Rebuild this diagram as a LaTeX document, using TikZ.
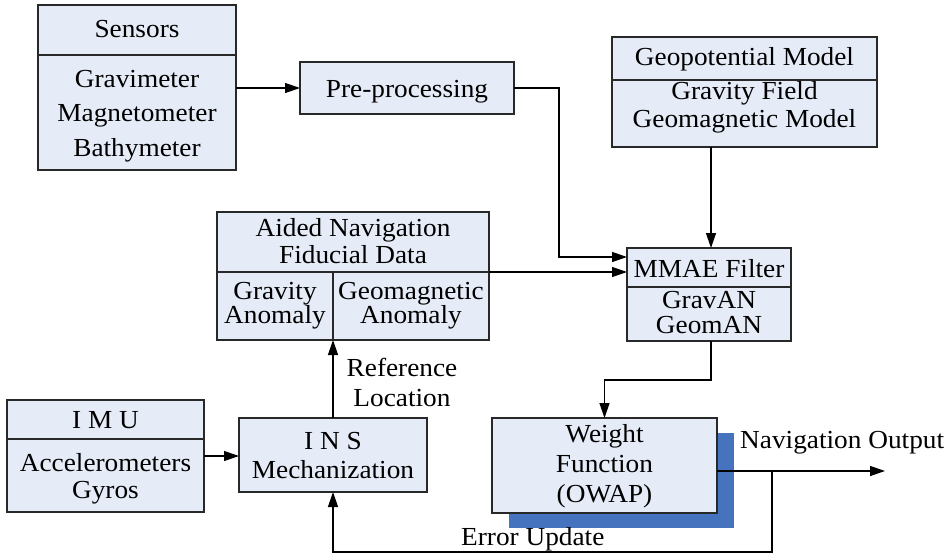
\documentclass[tikz,border=0pt]{standalone}
\usepackage{fontspec}
\setmainfont[FakeStretch=1.05]{Liberation Serif}
\usetikzlibrary{arrows.meta}
\definecolor{boxfill}{RGB}{230,236,247}
\definecolor{shadowblue}{RGB}{70,115,190}
\definecolor{edge}{RGB}{40,40,40}
\begin{document}
\begin{tikzpicture}[x=1pt,y=-1pt,
  box/.style={draw=edge, fill=boxfill, line width=1.3pt, inner sep=0pt, outer sep=0pt, anchor=north west},
  txt/.style={anchor=base, inner sep=0pt, text height=18pt, text depth=4pt, font=\fontsize{26}{30}\selectfont},
  lbl/.style={anchor=base west, inner sep=0pt, text height=18pt, text depth=4pt, font=\fontsize{26}{30}\selectfont},
  conn/.style={draw=black, line width=1.3pt, -{Triangle[length=15pt,width=10pt]}},
  divider/.style={draw=edge, line width=1.3pt}]
\useasboundingbox (0,0) rectangle (951,554);

% Sensors
\node[box, minimum width=198pt, minimum height=165pt] (sensors) at (38,5) {};
\draw[divider] (38,55) -- (236,55);
\node[txt] (tsens) at (137,37) {Sensors};
\node[txt] (tgrav) at (137,87) {Gravimeter};
\node[txt] (tmag) at (137,121) {Magnetometer};
\node[txt] (tbath) at (137,156) {Bathymeter};

% Pre-processing
\node[box, minimum width=214pt, minimum height=52pt] (pre) at (300,62) {};
\node[txt] (tpre) at (407,97) {Pre-processing};

% Geopotential Model
\node[box, minimum width=265pt, minimum height=110pt] (geo) at (612,37) {};
\draw[divider] (612,80) -- (877,80);
\node[txt] (tgeo) at (744.5,65) {Geopotential Model};
\node[txt] (tgf) at (744.5,99) {Gravity Field};
\node[txt] (tgm) at (744.5,127) {Geomagnetic Model};

% Aided Navigation
\node[box, minimum width=272pt, minimum height=128pt] (aided) at (217,212) {};
\draw[divider] (217,272) -- (489,272);
\draw[divider] (333,272) -- (333,340);
\node[txt] (tan1) at (353,236) {Aided Navigation};
\node[txt] (tan2) at (353,263) {Fiducial Data};
\node[txt] (tga1) at (275,299) {Gravity};
\node[txt] (tga2) at (275,323) {Anomaly};
\node[txt] (tgm1) at (411,299) {Geomagnetic};
\node[txt] (tgm2) at (411,323) {Anomaly};

% MMAE Filter
\node[box, minimum width=164pt, minimum height=93pt] (mmae) at (627,248) {};
\draw[divider] (627,287) -- (791,287);
\node[txt] (tmm) at (709,277) {MMAE Filter};
\node[txt] (tgr) at (709,308) {GravAN};
\node[txt] (tge) at (709,333) {GeomAN};

% IMU
\node[box, minimum width=197pt, minimum height=112pt] (imu) at (7,400) {};
\draw[divider] (7,439) -- (204,439);
\node[txt] (timu) at (105.5,428) {I M U};
\node[txt] (tacc) at (105.5,471) {Accelerometers};
\node[txt] (tgyr) at (105.5,498) {Gyros};

% INS
\node[box, minimum width=188pt, minimum height=74pt] (ins) at (239,418) {};
\node[txt] (tins) at (333,449) {I N S};
\node[txt] (tmech) at (333,478) {Mechanization};

% Weight function with shadow
\fill[shadowblue] (509,433) rectangle (734,528);
\node[box, minimum width=225pt, minimum height=95pt] (weight) at (492,418) {};
\node[txt] (tw1) at (604.5,442) {Weight};
\node[txt] (tw2) at (604.5,472) {Function};
\node[txt] (tw3) at (604.5,502) {(OWAP)};

% Labels
\node[txt] (tref) at (402,376) {Reference};
\node[txt] (tloc) at (402,406) {Location};
\node[lbl] (tnav) at (740,448) {Navigation Output};
\node[lbl] (terr) at (461,545) {Error Update};

% Coordinates
\coordinate (out) at (885,471);
\coordinate (branch) at (772,471);

% Connectors
\draw[conn] (sensors.east |- pre.west) -- (pre.west);
\draw[conn] (pre.east) -- (559,88) -- (559,257) -- (mmae.west |- 0,257);
\draw[conn] (aided.east |- 0,272) -- (mmae.west |- 0,272);
\draw[conn] (geo.south -| 711,0) -- (mmae.north -| 711,0);
\draw[conn] (mmae.south -| 711,0) -- (711,380) -| (weight.north);
\draw[conn] (imu.east) -- (imu.east -| ins.west);
\draw[conn] (ins.north) -- (ins.north |- aided.south);
\draw[conn] (weight.east |- branch) -- (out);
\draw[conn] (branch) -- (branch |- 0,552) -| (ins.south);
\end{tikzpicture}
\end{document}
